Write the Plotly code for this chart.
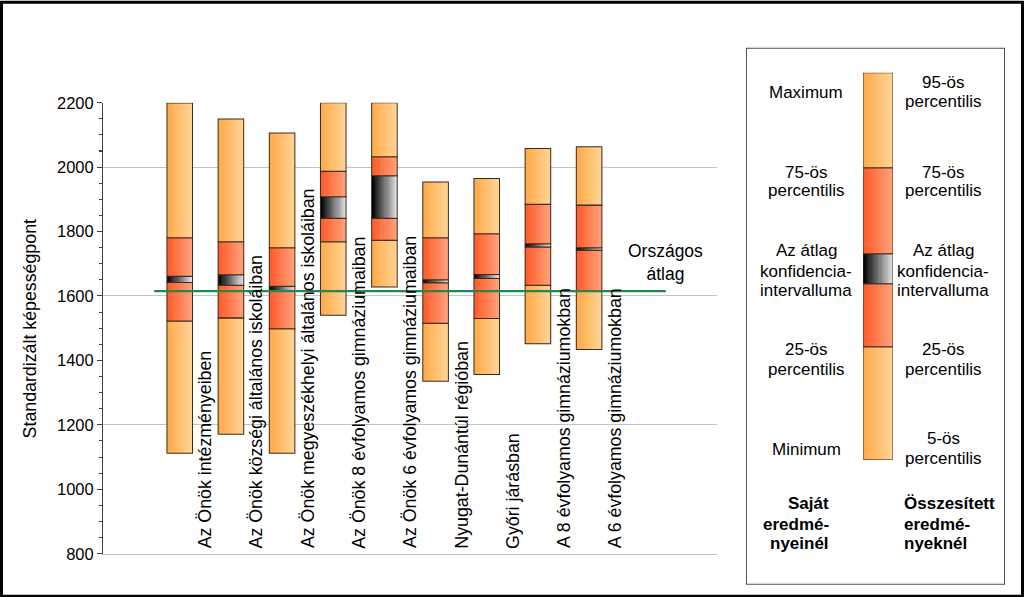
import plotly.graph_objects as go

# ---------------- data ----------------
categories = [
    "Az Önök intézményeiben",
    "Az Önök községi általános iskoláiban",
    "Az Önök megyeszékhelyi általános iskoláiban",
    "Az Önök 8 évfolyamos gimnáziumaiban",
    "Az Önök 6 évfolyamos gimnáziumaiban",
    "Nyugat-Dunántúl régióban",
    "Győri járásban",
    "A 8 évfolyamos gimnáziumokban",
    "A 6 évfolyamos gimnáziumokban",
]
p_low = [1112, 1171, 1112, 1540, 1628, 1335, 1356, 1452, 1434]   # minimum / 5th percentile
q25 = [1522, 1532, 1498, 1768, 1773, 1515, 1530, 1633, 1615]
ci_low = [1642, 1633, 1615, 1841, 1841, 1641, 1654, 1752, 1742]
ci_high = [1661, 1666, 1630, 1908, 1973, 1650, 1667, 1762, 1750]
q75 = [1781, 1768, 1750, 1987, 2032, 1781, 1793, 1885, 1882]
p_high = [2199, 2149, 2106, 2200, 2200, 1954, 1965, 2058, 2063]  # maximum / 95th percentile
national_avg = 1615
national_label = "Országos<br>átlag"
y_title = "Standardizált képességpont"
y_range = [800, 2200]

# legend key (schematic bar) segment edges, bottom to top
legend_key_edges = [0, 113, 176, 206, 292, 387]
legend_left_lines = ["Maximum", "75-ös", "percentilis", "Az átlag", "konfidencia-", "intervalluma",
                     "25-ös", "percentilis", "Minimum"]
legend_left_y = [91, 172, 190, 250, 270, 290, 349, 369, 448]
legend_right_lines = ["95-ös", "percentilis", "75-ös", "percentilis", "Az átlag", "konfidencia-",
                      "intervalluma", "25-ös", "percentilis", "5-ös", "percentilis"]
legend_right_y = [82, 101, 172, 190, 250, 270, 290, 349, 369, 438, 457]
legend_left_title = ["Saját", "eredmé-", "nyeinél"]
legend_right_title = ["Összesített", "eredmé-", "nyeknél"]
legend_title_y = [503, 523, 543]

# ---------------- styling ----------------
FONT = "Liberation Sans, Arial, sans-serif"
W, H = 1024, 597
ML, MR, MT, MB = 103, 19, 40, 10
PW, PH = W - ML - MR, H - MT - MB


def px_x(px):
    return (px - ML) / PW


def px_y(py):
    return (H - MB - py) / PH


LIGHT = ("#FFAA48", "#FFD496")
RED = ("#FF5A28", "#FFA27A")
BLACK = ("#000000", "#E4E4E4")
OUTLINE = "#3A2A1C"
N_STRIPS = 24
BAR_W = 0.5
TXT = 17.5
LEG = 17

fig = go.Figure()


def ramp(c0, c1, n):
    a = [int(c0[i:i + 2], 16) for i in (1, 3, 5)]
    b = [int(c1[i:i + 2], 16) for i in (1, 3, 5)]
    out = []
    for k in range(n):
        t = k / (n - 1)
        out.append("rgb(%d,%d,%d)" % tuple(round(a[j] + (b[j] - a[j]) * t) for j in range(3)))
    return out


def add_gradient_bar(xs, bases, tops, colors, width, xaxis="x", yaxis="y"):
    cols = ramp(colors[0], colors[1], N_STRIPS)
    heights = [t - b for b, t in zip(bases, tops)]
    for k in range(N_STRIPS):
        fig.add_trace(go.Bar(
            x=xs, y=heights, base=bases,
            width=width * (N_STRIPS - k) / N_STRIPS,
            offset=-width / 2 + k * width / N_STRIPS,
            marker=dict(color=cols[k], line=dict(width=0)),
            xaxis=xaxis, yaxis=yaxis, hoverinfo="skip", showlegend=False,
        ))
    fig.add_trace(go.Bar(
        x=xs, y=heights, base=bases, width=width, offset=-width / 2,
        marker=dict(color="rgba(0,0,0,0)", line=dict(color=OUTLINE, width=1)),
        xaxis=xaxis, yaxis=yaxis, hoverinfo="skip", showlegend=False,
    ))


xs = list(range(len(categories)))
segments = [
    (p_low, q25, LIGHT),
    (q25, ci_low, RED),
    (ci_low, ci_high, BLACK),
    (ci_high, q75, RED),
    (q75, p_high, LIGHT),
]
for b, t, c in segments:
    add_gradient_bar(xs, b, t, c, BAR_W)

# national average line (on overlay axis that also carries the sparse gridlines)
fig.add_trace(go.Scatter(
    x=[-0.5, len(categories) + 0.5], y=[national_avg, national_avg],
    mode="lines", line=dict(color="#23874F", width=2),
    xaxis="x", yaxis="y3", hoverinfo="skip", showlegend=False,
))

# legend key bar
key_colors = [LIGHT, RED, BLACK, RED, LIGHT]
for i, c in enumerate(key_colors):
    add_gradient_bar([0], [legend_key_edges[i]], [legend_key_edges[i + 1]], c, 1.0,
                     xaxis="x2", yaxis="y2")

annotations = []
for i, cat in enumerate(categories):
    annotations.append(dict(
        x=i + 0.5, y=y_range[0], xref="x", yref="y", text=cat, textangle=-90,
        xanchor="center", yanchor="bottom", yshift=3, showarrow=False,
        font=dict(family=FONT, size=TXT, color="#000000"),
    ))
annotations.append(dict(
    x=len(categories) + 0.5, y=national_avg, xref="x", yref="y", text=national_label,
    xanchor="center", yanchor="bottom", yshift=4, showarrow=False,
    font=dict(family=FONT, size=TXT, color="#000000"),
))
annotations.append(dict(
    x=px_x(30), y=px_y(328), xref="paper", yref="paper", text=y_title, textangle=-90,
    xanchor="center", yanchor="middle", showarrow=False,
    font=dict(family=FONT, size=TXT, color="#000000"),
))


def leg(txt, px, py, anchor="center", bold=False):
    annotations.append(dict(x=px_x(px), y=px_y(py), xref="paper", yref="paper",
                            text=("<b>%s</b>" % txt) if bold else txt,
                            xanchor=anchor, yanchor="middle", showarrow=False,
                            font=dict(family=FONT, size=LEG, color="#000000")))


for txt, py in zip(legend_left_lines, legend_left_y):
    leg(txt, 806, py)
for txt, py in zip(legend_right_lines, legend_right_y):
    leg(txt, 943, py)
for txt, py in zip(legend_left_title, legend_title_y):
    leg(txt, 831, py, anchor="right", bold=True)
for txt, py in zip(legend_right_title, legend_title_y):
    leg(txt, 902, py, anchor="left", bold=True)

shapes = [
    dict(type="rect", xref="paper", yref="paper",
         x0=px_x(746.5), x1=px_x(1004.5), y0=px_y(583.5), y1=px_y(47.5),
         line=dict(color="#505050", width=1), fillcolor="rgba(0,0,0,0)", layer="below"),
    dict(type="rect", xref="paper", yref="paper",
         x0=px_x(1.5), x1=px_x(1022.5), y0=px_y(595.5), y1=px_y(1.5),
         line=dict(color="#000000", width=3), fillcolor="rgba(0,0,0,0)"),
]

fig.update_layout(
    width=W, height=H,
    margin=dict(l=ML, r=MR, t=MT, b=MB, pad=0),
    paper_bgcolor="white", plot_bgcolor="white",
    barmode="overlay", bargap=0,
    showlegend=False,
    font=dict(family=FONT, color="#000000"),
    xaxis=dict(domain=[0, px_x(717)], range=[-1.5, len(categories) + 1.5], anchor="y",
               showline=True, linecolor="#C0C0C0", linewidth=1, showgrid=False,
               zeroline=False, showticklabels=False, ticks="", fixedrange=True),
    yaxis=dict(domain=[px_y(553), px_y(102)], range=y_range, anchor="x",
               dtick=200, tick0=0, showgrid=False, zeroline=False,
               showline=True, linecolor="#404040", linewidth=1,
               ticks="outside", ticklen=5, tickwidth=1, tickcolor="#404040",
               minor=dict(dtick=50, ticks="outside", ticklen=3, tickcolor="#404040", showgrid=False),
               tickfont=dict(family=FONT, size=16.5, color="#000000")),
    yaxis3=dict(overlaying="y", range=y_range, anchor="x", tick0=0, dtick=400,
                showgrid=True, gridcolor="#C4C4C4", gridwidth=1, showticklabels=False,
                ticks="", zeroline=False, showline=False),
    xaxis2=dict(domain=[px_x(863), px_x(893)], range=[-0.5, 0.5], anchor="y2", visible=False),
    yaxis2=dict(domain=[px_y(459), px_y(72)], range=[0, legend_key_edges[-1]], anchor="x2",
                visible=False),
    annotations=annotations,
    shapes=shapes,
)

fig.write_html(
    "out.html",
    config={"displayModeBar": False, "staticPlot": True},
    post_script=(
        "var d=document.getElementById('{plot_id}');"
        "document.body.style.margin='0';"
        "document.documentElement.style.overflow='hidden';"
        "document.body.style.overflow='hidden';"
        "d.style.position='fixed';d.style.left='0px';d.style.top='0px';"
        "d.style.transformOrigin='0 0';"
        "d.style.transform='scale(1,1.0168)';"
    ),
)
